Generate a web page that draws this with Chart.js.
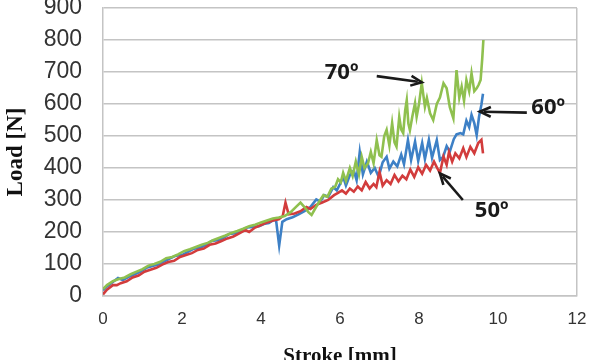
<!DOCTYPE html>
<html><head><meta charset="utf-8">
<script src="https://cdn.jsdelivr.net/npm/chart.js@4/dist/chart.umd.min.js"></script>
<style>html,body{margin:0;padding:0;background:#fff}</style>
</head><body>
<canvas id="c" width="589" height="360"></canvas>
<script>
// ---- data ----
const xTicks = [0, 2, 4, 6, 8, 10, 12];
const yTicks = [0, 100, 200, 300, 400, 500, 600, 700, 800, 900];

const stroke70 = [0,0.1,0.25,0.4,0.55,0.7,0.85,1.0,1.15,1.3,1.45,1.6,1.75,1.9,2.05,2.2,2.35,2.5,2.65,2.8,2.95,3.1,3.25,3.4,3.55,3.7,3.85,4.0,4.15,4.3,4.45,4.6,4.75,4.9,5.0,5.1,5.2,5.28,5.38,5.5,5.58,5.68,5.78,5.88,5.95,6.02,6.08,6.15,6.25,6.32,6.4,6.48,6.55,6.62,6.71,6.78,6.85,6.93,7.0,7.05,7.12,7.18,7.25,7.32,7.38,7.43,7.5,7.55,7.6,7.65,7.69,7.73,7.77,7.83,7.9,7.94,8.0,8.07,8.15,8.2,8.28,8.36,8.45,8.53,8.62,8.7,8.78,8.87,8.95,9.02,9.08,9.14,9.2,9.27,9.33,9.4,9.46,9.51,9.56,9.6,9.63];
const load70   = [22,34,46,53,58,68,76,84,95,100,107,118,122,130,140,146,153,160,166,175,182,189,197,203,210,218,223,230,236,242,245,250,262,280,292,278,262,253,275,300,315,310,335,342,365,355,385,360,400,375,420,380,435,400,415,450,415,487,440,435,500,519,470,540,480,467,560,520,509,580,612,540,518,560,603,560,600,665,591,619,571,550,600,620,665,649,590,555,706,620,654,610,675,640,696,640,649,660,675,740,800];

const stroke60 = [0,0.1,0.25,0.38,0.5,0.65,0.8,0.95,1.1,1.25,1.4,1.55,1.7,1.85,2.0,2.15,2.3,2.45,2.6,2.75,2.9,3.05,3.2,3.35,3.5,3.65,3.8,3.95,4.1,4.2,4.3,4.38,4.46,4.54,4.65,4.8,4.95,5.1,5.25,5.4,5.5,5.6,5.7,5.83,5.92,6.0,6.08,6.15,6.25,6.35,6.42,6.5,6.58,6.68,6.78,6.88,6.98,7.08,7.18,7.25,7.35,7.45,7.55,7.62,7.72,7.8,7.9,7.98,8.08,8.15,8.25,8.33,8.45,8.53,8.61,8.7,8.78,8.88,8.95,9.05,9.12,9.2,9.27,9.33,9.4,9.46,9.52,9.58,9.62];
const load60   = [18,30,44,56,50,60,68,76,88,94,98,108,118,126,128,138,148,150,160,172,174,182,194,196,204,214,216,218,226,228,236,238,158,232,240,246,255,265,278,302,295,315,310,340,330,350,372,345,378,392,362,450,380,420,385,400,372,418,435,398,420,405,442,412,487,425,482,422,478,428,488,432,487,425,435,468,451,490,505,509,505,548,528,566,540,503,560,598,632];

const stroke50 = [0,0.1,0.25,0.35,0.45,0.6,0.75,0.9,1.05,1.2,1.35,1.5,1.65,1.8,1.95,2.1,2.25,2.4,2.55,2.7,2.85,3.0,3.15,3.3,3.45,3.6,3.7,3.85,4.0,4.15,4.3,4.45,4.55,4.62,4.7,4.85,5.0,5.15,5.25,5.4,5.55,5.7,5.85,5.95,6.05,6.15,6.25,6.35,6.45,6.55,6.65,6.75,6.85,6.92,7.0,7.08,7.18,7.28,7.38,7.48,7.58,7.68,7.78,7.88,7.98,8.08,8.18,8.28,8.38,8.46,8.53,8.62,8.7,8.76,8.84,8.92,9.02,9.12,9.2,9.3,9.4,9.5,9.58,9.62];
const load50   = [5,20,34,34,40,46,58,64,76,82,88,98,106,110,122,128,134,144,148,160,164,172,180,186,196,206,200,214,222,230,236,240,250,292,255,258,265,278,272,285,292,300,315,322,330,320,336,326,342,330,356,336,350,340,388,345,362,350,378,358,376,365,395,372,402,382,410,392,420,400,384,436,410,450,420,446,430,462,434,466,446,478,488,446];

const seriesNames = ['70º', '60º', '50º'];
const annoTexts  = ['70º', '60º', '50º'];

// annotation placement in data units: text centre, arrow start, arrow tip
const annoText  = [[6.04, 697], [11.27, 587], [9.84, 267]];
const annoFrom  = [[6.93, 687], [10.73, 573], [9.11, 300]];
const annoTo    = [[8.07, 668], [9.54, 576], [8.53, 383]];

function pts(xs, ys) { return xs.map((x, i) => ({ x: x, y: ys[i] })); }

const annoPlugin = {
  id: 'anno',
  afterDatasetsDraw(chart) {
    const ctx = chart.ctx, xs = chart.scales.x, ys = chart.scales.y;
    ctx.save();
    ctx.strokeStyle = '#1a1a1a';
    ctx.fillStyle = '#1a1a1a';
    ctx.lineWidth = 2.6;
    annoTexts.forEach((t, i) => {
      const x1 = xs.getPixelForValue(annoFrom[i][0]), y1 = ys.getPixelForValue(annoFrom[i][1]);
      const x2 = xs.getPixelForValue(annoTo[i][0]), y2 = ys.getPixelForValue(annoTo[i][1]);
      const a = Math.atan2(y2 - y1, x2 - x1);
      const hl = 12, hw = 0.42;
      ctx.beginPath();
      ctx.moveTo(x1, y1);
      ctx.lineTo(x2 - Math.cos(a) * 4, y2 - Math.sin(a) * 4);
      ctx.stroke();
      ctx.beginPath();
      ctx.moveTo(x2 - hl * Math.cos(a - hw), y2 - hl * Math.sin(a - hw));
      ctx.lineTo(x2, y2);
      ctx.lineTo(x2 - hl * Math.cos(a + hw), y2 - hl * Math.sin(a + hw));
      ctx.stroke();
      ctx.font = 'bold 22px "Open Sans", Arial, sans-serif';
      ctx.textAlign = 'center';
      ctx.textBaseline = 'middle';
      ctx.fillText(t, xs.getPixelForValue(annoText[i][0]), ys.getPixelForValue(annoText[i][1]));
    });
    ctx.restore();
  }
};

const gridGray = '#c4c4c4';

new Chart(document.getElementById('c'), {
  type: 'scatter',
  data: {
    datasets: [
      { label: seriesNames[0], data: pts(stroke70, load70), borderColor: '#8fc04f', backgroundColor: '#8fc04f' },
      { label: seriesNames[2], data: pts(stroke50, load50), borderColor: '#d23c3c', backgroundColor: '#d23c3c' },
      { label: seriesNames[1], data: pts(stroke60, load60), borderColor: '#3d80c6', backgroundColor: '#3d80c6' }
    ].map(d => Object.assign(d, { showLine: true, pointRadius: 0, borderWidth: 2.6, tension: 0 }))
  },
  options: {
    responsive: false,
    animation: false,
    devicePixelRatio: 1,
    layout: { padding: { top: 8, right: 12, left: 0, bottom: 0 } },
    plugins: { legend: { display: false }, tooltip: { enabled: false } },
    scales: {
      x: {
        type: 'linear', min: 0, max: 12,
        afterBuildTicks(s) { s.ticks = xTicks.map(v => ({ value: v })); },
        afterFit(s) { s.height = 64; s.paddingLeft = 0; s.paddingRight = 0; },
        grid: { drawTicks: false, lineWidth: 1.5, color: c => (c.tick && c.tick.value === 12) ? gridGray : 'rgba(0,0,0,0)' },
        border: { display: true, color: gridGray, width: 1.5 },
        ticks: { padding: 13, maxRotation: 0, autoSkip: false, color: '#333', font: { family: 'Liberation Sans, Arial, sans-serif', size: 17 } },
        title: { display: true, text: 'Stroke [mm]', color: '#111', padding: { top: 0, bottom: -9 },
                 font: { family: 'Liberation Serif, Times New Roman, serif', size: 21, weight: 'bold' } }
      },
      y: {
        type: 'linear', min: 0, max: 900,
        afterBuildTicks(s) { s.ticks = yTicks.map(v => ({ value: v })); },
        afterFit(s) { s.width = 103; s.paddingTop = 0; s.paddingBottom = 0; },
        grid: { drawTicks: false, lineWidth: 1.5, color: gridGray },
        border: { display: true, color: gridGray, width: 1.5 },
        ticks: { padding: 21, color: '#333', font: { family: 'Liberation Sans, Arial, sans-serif', size: 23 } },
        title: { display: true, text: 'Load [N]', color: '#111', padding: { top: 2, bottom: 0 },
                 font: { family: 'Liberation Serif, Times New Roman, serif', size: 23, weight: 'bold' } }
      }
    }
  },
  plugins: [annoPlugin]
});
</script>
</body></html>
